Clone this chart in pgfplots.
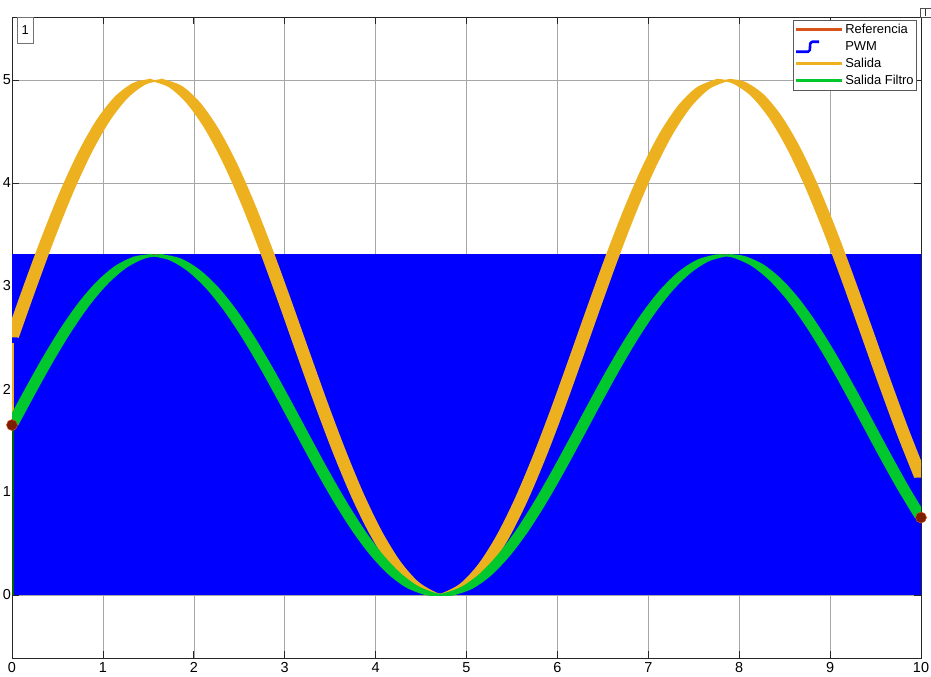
\documentclass[border=0pt]{standalone}
\usepackage{pgfplots}
\pgfplotsset{compat=1.18}
\usepackage{pgfplotstable}
\usepgfplotslibrary{fillbetween}
\usepackage{fontspec}
\setmainfont{Liberation Sans}
\definecolor{pwmc}{RGB}{0,0,255}
\definecolor{salc}{RGB}{237,177,32}
\definecolor{filc}{RGB}{0,200,45}
\definecolor{refc}{RGB}{217,83,25}
\definecolor{dotc}{RGB}{122,30,4}
\tikzset{fill between/on layer=main}
\pgfplotstableread{
t o g
0 2.500 1.650
0.2 2.997 1.978
0.4 3.474 2.293
0.6 3.912 2.582
0.8 4.293 2.834
1.0 4.604 3.038
1.2 4.830 3.188
1.4 4.964 3.276
1.5708 5.000 3.300
1.6 4.999 3.299
1.8 4.935 3.257
2.0 4.773 3.150
2.2 4.521 2.984
2.4 4.189 2.765
2.6 3.789 2.501
2.8 3.337 2.203
3.0 2.853 1.883
3.2 2.354 1.554
3.4 1.861 1.228
3.6 1.394 0.920
3.8 0.970 0.640
4.0 0.608 0.401
4.2 0.321 0.212
4.4 0.121 0.080
4.6 0.016 0.010
4.7124 0.000 0.000
4.8 0.010 0.006
5.0 0.103 0.068
5.2 0.291 0.192
5.4 0.568 0.375
5.6 0.922 0.608
5.8 1.339 0.883
6.0 1.801 1.189
6.2 2.292 1.513
6.4 2.791 1.842
6.6 3.279 2.164
6.8 3.735 2.465
7.0 4.142 2.734
7.2 4.484 2.960
7.4 4.747 3.133
7.6 4.920 3.247
7.8 4.996 3.298
7.854 5.000 3.300
8.0 4.973 3.282
8.2 4.852 3.202
8.4 4.637 3.060
8.6 4.336 2.862
8.8 3.962 2.615
9.0 3.530 2.330
9.2 3.057 2.018
9.4 2.562 1.691
9.6 2.064 1.362
9.8 1.584 1.045
10.0 1.140 0.752
}\datatab
\begin{document}
\begin{tikzpicture}
\begin{axis}[
  at={(0,0)}, anchor=south west,
  scale only axis, width=909bp, height=641bp,
  xmin=0, xmax=10, ymin=-0.612, ymax=5.612,
  xtick={0,1,...,10}, ytick={0,1,...,5},
  clip mode=individual,
  grid=major,
  major grid style={black!35, line width=0.6bp},
  axis line style={black!85, line width=0.7bp},
  tick align=inside, major tick length=7bp,
  tick style={black!85, line width=0.7bp},
  tick label style={font=\fontsize{14.5}{16}\selectfont},
  /pgf/number format/assume math mode=true,
  yticklabel style={inner sep=1bp},
  xticklabel style={inner sep=2bp, yshift=-2bp},
  legend cell align=left,
  legend style={at={(1,1)}, anchor=north east, xshift=-4bp, yshift=-3bp,
    draw=black!65, line width=0.6bp, fill=white,
    font=\fontsize{13}{15}\selectfont, row sep=0bp,
    nodes={inner sep=2bp, text height=10bp, text depth=3bp},
    inner sep=1bp},
  legend image code/.code={\draw[#1] (0bp,0bp) -- (46bp,0bp);},
]
% PWM area
\addplot[fill=pwmc, draw=none, forget plot] coordinates {(0,0) (0,3.31) (10,3.31) (10,0) (0,0)};
% Salida band
\addplot[salc, line width=1.8bp, smooth, name path=oA, forget plot] table[x expr=\thisrow{t}-0.065, y=o] {\datatab};
\addplot[salc, line width=1.8bp, smooth, name path=oB, forget plot] table[x expr=\thisrow{t}+0.065, y=o] {\datatab};
\addplot[fill=salc, draw=none, forget plot] fill between[of=oA and oB];
\addplot[salc, line width=1.2bp, forget plot] coordinates {(0.01,1.70) (0.01,2.45)};
% Referencia (under the filter output)
\addplot[refc, line width=1.5bp, smooth, forget plot] table[x=t, y=g] {\datatab};
% Salida Filtro band
\addplot[filc, line width=1.8bp, smooth, name path=gA, forget plot] table[x expr=\thisrow{t}-0.06, y=g] {\datatab};
\addplot[filc, line width=1.8bp, smooth, name path=gB, forget plot] table[x expr=\thisrow{t}+0.06, y=g] {\datatab};
\addplot[fill=filc, draw=none, forget plot] fill between[of=gA and gB];
\addplot[green!40!black, line width=1.2bp, forget plot] coordinates {(0.01,0) (0.01,1.65)};
% end markers
\addplot[only marks, mark=*, mark size=5.5bp,
  mark options={fill=dotc, draw=refc, line width=0.5bp}, forget plot]
  coordinates {(0,1.65) (10,0.752)};
% legend
\addlegendimage{refc, line width=2.6bp}
\addlegendentry{Referencia}
\addlegendimage{legend image code/.code={\draw[pwmc, line width=2.6bp, line join=round] (0bp,-5bp) -- (12bp,-5bp) to[out=0,in=-90] (14bp,0bp) to[out=90,in=180] (16bp,5bp) -- (23bp,5bp);}}
\addlegendentry{PWM}
\addlegendimage{salc, line width=2.6bp}
\addlegendentry{Salida}
\addlegendimage{filc, line width=2.6bp}
\addlegendentry{Salida Filtro}
% box "1"
\node[draw=black!55, fill=white, line width=0.6bp, anchor=north west,
  minimum width=16bp, minimum height=26bp, inner sep=0bp,
  font=\fontsize{13}{15}\selectfont] at (rel axis cs:0,1) [xshift=5bp] {1};
\end{axis}
\draw[black!70, line width=0.6bp, fill=white] (908bp,641bp) rectangle (919bp,650bp);
\draw[black!80, line width=0.8bp] (913.5bp,641.5bp) -- (913.5bp,649bp);
\pgfresetboundingbox
\path[use as bounding box] (-12bp,-19bp) rectangle (919bp,658bp);
\end{tikzpicture}
\end{document}
